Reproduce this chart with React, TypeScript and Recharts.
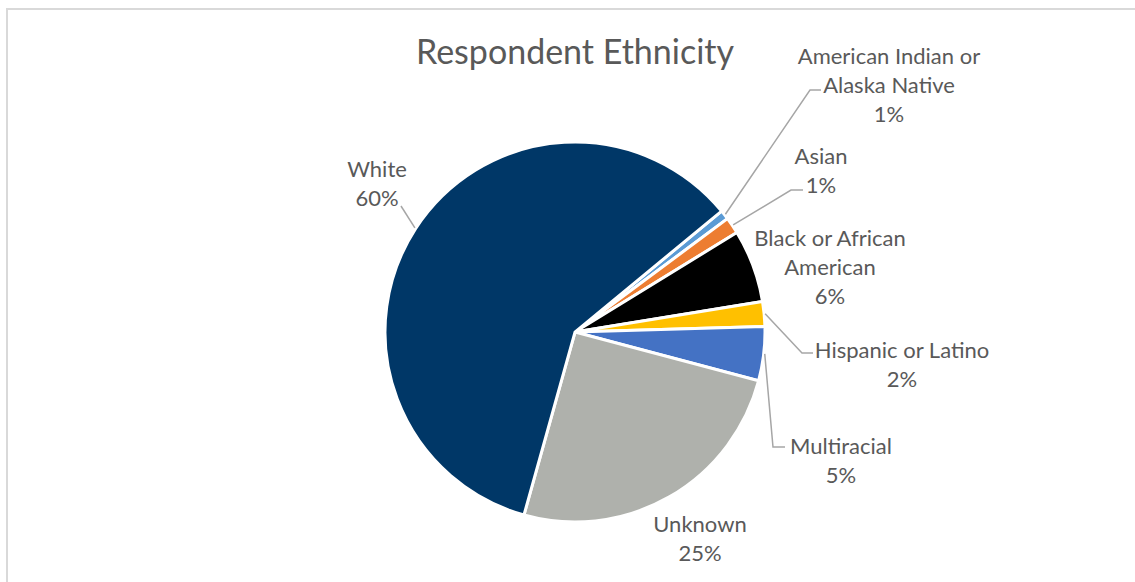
import { Cell, Pie, PieChart } from "recharts";

const categories = [
  "American Indian or Alaska Native",
  "Asian",
  "Black or African American",
  "Hispanic or Latino",
  "Multiracial",
  "Unknown",
  "White",
];
const shares = [0.8, 1.4, 6.2, 2.1, 4.6, 25.2, 59.7];
const sliceColors = ["#5b9bd5", "#ed7d31", "#000000", "#ffc000", "#4472c4", "#afb1ac", "#003767"];

// label text lines, written as they wrap in the original
const labelLines = [
  ["American Indian or", "Alaska Native"],
  ["Asian"],
  ["Black or African", "American"],
  ["Hispanic or Latino"],
  ["Multiracial"],
  ["Unknown"],
  ["White"],
];

// where each label sits, relative to the pie centre (text centre x, first line y)
// plus optional leader elbow / end points
type LabelLayout = { dx: number; dy: number; elbow?: [number, number]; end?: [number, number] };
const labelLayout: LabelLayout[] = [
  { dx: 314, dy: -277, elbow: [235, -242], end: [246, -242] },
  { dx: 246, dy: -177, elbow: [216, -142], end: [228, -142] },
  { dx: 255, dy: -95 },
  { dx: 327, dy: 17, elbow: [227, 21], end: [238, 21] },
  { dx: 266, dy: 113, elbow: [198, 115], end: [210, 115] },
  { dx: 125, dy: 191 },
  { dx: -198, dy: -164, end: [-174, -126] },
];

const data = categories.map((name, i) => ({ name, value: shares[i] }));

const RAD = Math.PI / 180;
const textColor = "#595959";
const lineColor = "#a6a6a6";
const lineHeight = 29;

function renderLabel(props: any) {
  const { cx, cy, midAngle, outerRadius, percent, index } = props;
  const layout = labelLayout[index];
  const lines = [...labelLines[index], `${Math.round(percent * 100)}%`];
  const tx = cx + layout.dx;
  const ty = cy + layout.dy;
  const sx = cx + (outerRadius + 1) * Math.cos(-midAngle * RAD);
  const sy = cy + (outerRadius + 1) * Math.sin(-midAngle * RAD);
  const pts: string[] = [`${sx},${sy}`];
  if (layout.elbow) pts.push(`${cx + layout.elbow[0]},${cy + layout.elbow[1]}`);
  if (layout.end) pts.push(`${cx + layout.end[0]},${cy + layout.end[1]}`);
  return (
    <g key={`label-${index}`}>
      {pts.length > 1 && (
        <polyline points={pts.join(" ")} fill="none" stroke={lineColor} strokeWidth={1.5} />
      )}
      {lines.map((line, i) => (
        <text
          key={i}
          x={tx}
          y={ty + i * lineHeight}
          textAnchor="middle"
          dominantBaseline="central"
          fill={textColor}
          fontSize={22}
          fontFamily="Lato, sans-serif"
        >
          {line}
        </text>
      ))}
    </g>
  );
}

export default function App() {
  return (
    <div
      style={{
        position: "absolute",
        left: 0,
        top: 0,
        width: 1135,
        height: 582,
        overflow: "hidden",
        background: "#fff",
      }}
    >
      <div
        style={{
          position: "absolute",
          left: 6,
          top: 8,
          width: 1200,
          height: 700,
          border: "2px solid #d9d9d9",
          boxSizing: "border-box",
        }}
      />
      <div
        style={{
          position: "absolute",
          left: 0,
          top: 29,
          width: 1150,
          textAlign: "center",
          fontFamily: "Lato, sans-serif",
          fontSize: 34,
          color: textColor,
          lineHeight: "44px",
        }}
      >
        Respondent Ethnicity
      </div>
      <div style={{ position: "absolute", left: 0, top: 0 }}>
        <PieChart width={1135} height={582} margin={{ top: 0, right: 0, bottom: 0, left: 0 }}>
          <Pie
            data={data}
            dataKey="value"
            nameKey="name"
            cx={575}
            cy={332}
            outerRadius={190}
            startAngle={39.5}
            endAngle={-320.5}
            stroke="#ffffff"
            strokeWidth={3}
            label={renderLabel}
            labelLine={false}
            isAnimationActive={false}
          >
            {data.map((entry, i) => (
              <Cell key={entry.name} fill={sliceColors[i]} />
            ))}
          </Pie>
        </PieChart>
      </div>
    </div>
  );
}
